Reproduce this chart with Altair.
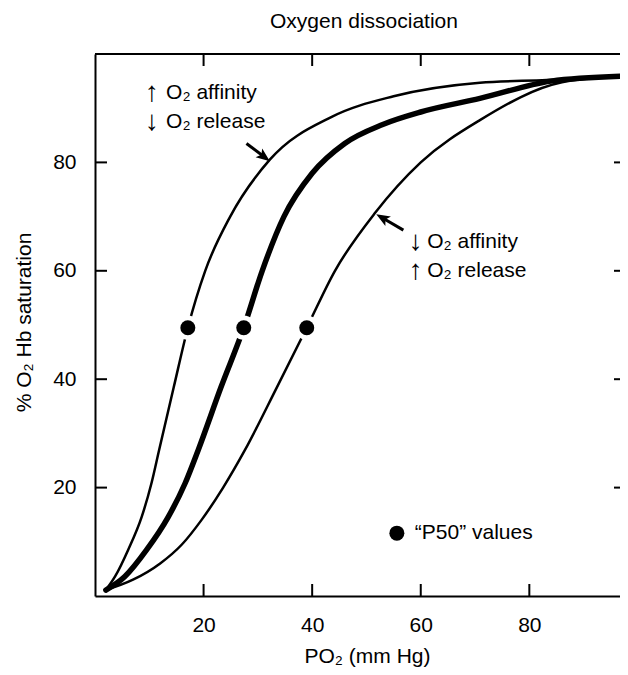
import math
import altair as alt
import pandas as pd

W, H = 525, 542
FONT = "Liberation Sans, Arial, sans-serif"
FS = 21

title_text = "Oxygen dissociation"
x_title = "PO₂ (mm Hg)"
y_title = "% O₂ Hb saturation"
x_ticks = [20, 40, 60, 80]
y_ticks = [20, 40, 60, 80]
x_domain = [0, 96.7]
y_domain = [0, 100]

# high affinity curve (left, thin)
left_x = [2.0, 3.7, 6.1, 8.6, 10.4, 11.8, 14.5, 17.1, 20.3, 24.9, 32.2, 43.6, 55.0, 70.9, 83.2, 96.7]
left_y = [1.1, 3.6, 8.5, 14.6, 20.8, 26.9, 38.5, 49.5, 60.0, 70.0, 80.5, 88.4, 92.2, 94.7, 95.2, 95.9]
# normal curve (middle, thick)
mid_x = [2.0, 5.5, 9.5, 13.5, 16.6, 19.0, 23.2, 27.4, 30.8, 34.8, 40.0, 46.0, 53.0, 60.0, 70.9, 84.0, 96.7]
mid_y = [1.1, 3.6, 8.5, 14.6, 20.8, 26.9, 38.5, 49.5, 60.0, 70.0, 78.0, 83.5, 87.0, 89.3, 91.8, 95.0, 95.9]
# low affinity curve (right, thin)
right_x = [2.0, 7.0, 12.0, 16.0, 19.6, 23.6, 27.6, 33.5, 39.0, 44.2, 51.6, 60.0, 70.9, 86.0, 96.7]
right_y = [1.1, 3.0, 6.0, 9.5, 14.0, 20.0, 26.9, 38.5, 49.5, 60.0, 70.7, 80.0, 87.8, 94.8, 95.9]

p50_x = [17.1, 27.4, 39.0]
p50_y = [49.5, 49.5, 49.5]

legend_x = [55.6]
legend_y = [11.6]
legend_text_x = [58.9]
legend_text = ["“P50” values"]

glyph_x = [10.5, 10.5, 59.1, 59.1]
glyph_text = ["↑", "↓", "↓", "↑"]
ann_x = [13.1, 13.1, 61.2, 61.2]
ann_y = [92.8, 87.5, 65.4, 60.0]
ann_text = ["O₂ affinity", "O₂ release", "O₂ affinity", "O₂ release"]

arrow_x1 = [27.9, 56.8]
arrow_y1 = [83.5, 67.5]
arrow_x2 = [31.2, 52.9]
arrow_y2 = [81.0, 69.8]

kx = W / (x_domain[1] - x_domain[0])
ky = H / (y_domain[1] - y_domain[0])
angles = [
    (math.degrees(math.atan2(-(y2 - y1) * ky, (x2 - x1) * kx)) + 360) % 360
    for x1, y1, x2, y2 in zip(arrow_x1, arrow_y1, arrow_x2, arrow_y2)
]
left_df = pd.DataFrame({"x": left_x, "y": left_y})
mid_df = pd.DataFrame({"x": mid_x, "y": mid_y})
right_df = pd.DataFrame({"x": right_x, "y": right_y})
arrows = pd.DataFrame({"x": arrow_x1, "y": arrow_y1, "x2": arrow_x2, "y2": arrow_y2})
heads = pd.DataFrame({"x": arrow_x2, "y": arrow_y2, "ang": angles})
p50 = pd.DataFrame({"x": p50_x, "y": p50_y})
legend_df = pd.DataFrame({"x": legend_x, "y": legend_y})
legend_txt = pd.DataFrame({"x": legend_text_x, "y": legend_y, "text": legend_text})
ann = pd.DataFrame({"x": ann_x, "y": ann_y, "text": ann_text})
glyphs = pd.DataFrame({"x": glyph_x, "y": ann_y, "text": glyph_text})
xt = pd.DataFrame({"x": x_ticks})
yt = pd.DataFrame({"y": y_ticks})

xs = alt.Scale(domain=x_domain, nice=False, zero=False)
ys = alt.Scale(domain=y_domain, nice=False, zero=False)

x_axis = alt.Axis(
    values=x_ticks, title=x_title, grid=False, ticks=False, tickSize=0,
    domain=True, domainColor="black", domainWidth=2,
    labelFont=FONT, labelFontSize=FS, labelColor="black", labelPadding=18,
    titleFont=FONT, titleFontSize=FS, titleFontWeight="normal", titleColor="black",
    titleX=272, titleY=66, titleBaseline="alphabetic", titleAlign="center",
)
y_axis = alt.Axis(
    values=y_ticks, title=y_title, grid=False, ticks=False, tickSize=0,
    domain=True, domainColor="black", domainWidth=2,
    labelFont=FONT, labelFontSize=FS, labelColor="black", labelPadding=19,
    titleFont=FONT, titleFontSize=FS, titleFontWeight="normal", titleColor="black",
    titleX=-71, titleY=268, titleAngle=270, titleBaseline="middle", titleAlign="center",
)


def X(field="x"):
    return alt.X(f"{field}:Q", scale=xs, axis=x_axis)


def Y(field="y"):
    return alt.Y(f"{field}:Q", scale=ys, axis=y_axis)


def curve(df, w):
    return alt.Chart(df).mark_line(interpolate="monotone", color="black", strokeWidth=w,
                                   strokeCap="round").encode(x=X(), y=Y())


lines = [curve(left_df, 2.5), curve(mid_df, 5.5), curve(right_df, 2.5)]

halo = alt.Chart(p50).mark_point(filled=True, color="white", opacity=1, size=600, shape="circle").encode(x=X(), y=Y())
dots = alt.Chart(p50).mark_point(filled=True, color="black", opacity=1, size=225, shape="circle").encode(x=X(), y=Y())

leg_dot = alt.Chart(legend_df).mark_point(filled=True, color="black", opacity=1, size=225, shape="circle").encode(x=X(), y=Y())
leg_text = alt.Chart(legend_txt).mark_text(align="left", baseline="middle", font=FONT, fontSize=FS, color="black").encode(
    x=X(), y=Y(), text="text:N")

ann_text_layer = alt.Chart(ann).mark_text(align="left", baseline="middle", font=FONT, fontSize=FS, color="black").encode(
    x=X(), y=Y(), text="text:N")
glyph_layer = alt.Chart(glyphs).mark_text(align="center", baseline="middle", font=FONT, fontSize=28, color="black").encode(
    x=X(), y=Y(), text="text:N")

arrow_lines = alt.Chart(arrows).mark_rule(color="black", strokeWidth=3).encode(
    x=X(), y=Y(), x2="x2:Q", y2="y2:Q")
arrow_heads = alt.Chart(heads).mark_point(
    filled=True, color="black", opacity=1, size=190,
    shape="M1,0 L-1,-0.8 L-0.55,0 L-1,0.8 Z").encode(
    x=X(), y=Y(), angle=alt.Angle("ang:Q", scale=None))

tick_len = 12
bottom_ticks = alt.Chart(xt).mark_rule(color="black", strokeWidth=2).encode(
    x=X(), y=alt.value(H), y2=alt.value(H - tick_len))
top_ticks = alt.Chart(xt).mark_rule(color="black", strokeWidth=2).encode(
    x=X(), y=alt.value(0), y2=alt.value(tick_len))
left_ticks = alt.Chart(yt).mark_rule(color="black", strokeWidth=2).encode(
    y=Y(), x=alt.value(0), x2=alt.value(tick_len))
right_ticks = alt.Chart(yt).mark_rule(color="black", strokeWidth=2).encode(
    y=Y(), x=alt.value(W - 6), x2=alt.value(W))
top_border = alt.Chart(xt).mark_rule(color="black", strokeWidth=2).encode(
    x=alt.value(0), x2=alt.value(W), y=alt.value(0))
title_mark = alt.Chart(pd.DataFrame({"text": [title_text]})).mark_text(
    align="center", baseline="alphabetic", font=FONT, fontSize=FS, color="black").encode(
    x=alt.value(269), y=alt.value(-26), text="text:N")

chart = alt.layer(
    *lines, halo, dots, leg_dot, leg_text, ann_text_layer, glyph_layer, arrow_lines, arrow_heads,
    bottom_ticks, top_ticks, left_ticks, right_ticks, top_border, title_mark,
).properties(
    width=W, height=H,
    autosize=alt.AutoSizeParams(type="none"),
    padding={"left": 87, "top": 46, "right": 0, "bottom": 71},
    background="white",
).configure_view(stroke=None)

chart.save("out.html", embed_options={"renderer": "svg", "actions": False})
